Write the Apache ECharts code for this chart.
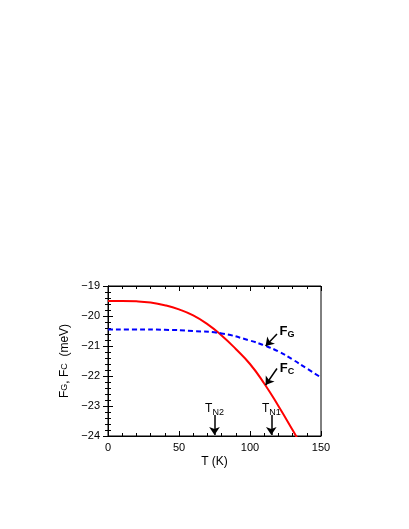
<!DOCTYPE html><html><head><meta charset="utf-8"><script src="https://cdn.jsdelivr.net/npm/echarts@6/dist/echarts.min.js"></script></head><body style="margin:0;background:#fff"><div id="c" style="width:409px;height:529px"></div><script>
const tC=[0,10,20,30,40,50,60,70,80,90,100,110,120,130,133];
const fC=[-19.5,-19.5,-19.51,-19.55,-19.64,-19.78,-19.98,-20.27,-20.65,-21.1,-21.6,-22.25,-23.0,-23.8,-24.05];
const tG=[0,20,40,60,80,100,110,120,130,140,150];
const fG=[-20.45,-20.45,-20.46,-20.5,-20.58,-20.82,-20.98,-21.18,-21.45,-21.75,-22.05];
const xTicks=[0,50,100,150];
const yTicks=[-24,-23,-22,-21,-20,-19];
const TN=[{x:75,name:'N2'},{x:115,name:'N1'}];
const font='Liberation Sans';
const ax={axisLine:{lineStyle:{color:'#000',width:1}},axisTick:{inside:true,length:5,lineStyle:{color:'#000'}},minorTick:{show:true,splitNumber:5,length:3,lineStyle:{color:'#000'}},splitLine:{show:false}};
const fmt=v=>String(v).replace('-','\u2212');
const arrows=[
 ...TN.map(t=>[{coord:[t.x,-23.3]},{coord:[t.x,-23.97]}]),
 [{coord:[119,-20.6]},{coord:[111,-21.0]}],
 [{coord:[119,-21.75]},{coord:[111,-22.3]}]
];
const labels=[
 {coord:[75,-23.1],t:'{a|T}{s|N2}'},{coord:[115,-23.1],t:'{a|T}{s|N1}'},
 {coord:[126,-20.5],t:'{b|F}{bs|G}'},{coord:[126,-21.75],t:'{b|F}{bs|C}'}];
const rich={a:{fontSize:12,fontFamily:font,color:'#000'},s:{fontSize:9,fontFamily:font,color:'#000',padding:[7,0,0,0]},
 b:{fontSize:13,fontWeight:'bold',fontFamily:font,color:'#000'},bs:{fontSize:9,fontWeight:'bold',fontFamily:font,color:'#000',padding:[7,0,0,0]}};
const ch=echarts.init(document.getElementById('c'));
ch.setOption({animation:false,
grid:{left:108,right:88,top:286,bottom:93,show:true,borderColor:'#000',borderWidth:1},
xAxis:[{type:'value',min:0,max:150,interval:50,...ax,name:'T (K)',nameLocation:'middle',nameGap:20,nameTextStyle:{fontSize:12,fontFamily:font,color:'#000'},axisLabel:{fontSize:11,fontFamily:font,color:'#000',margin:6}},
 {type:'value',min:0,max:150,interval:50,position:'top',...ax,axisLabel:{show:false}}],
yAxis:[{type:'value',min:-24,max:-19,interval:1,...ax,name:'{a|F}{s|G}{a|, F}{s|C}{a|  (meV)}',nameLocation:'middle',nameGap:30,nameTextStyle:{rich:{a:{fontSize:12,fontFamily:font},s:{fontSize:9,fontFamily:font}}},axisLabel:{fontSize:11,fontFamily:font,color:'#000',formatter:fmt}},
 {type:'value',min:-24,max:-19,interval:1,position:'right',...ax,axisLabel:{show:false}}],
series:[
 {type:'line',data:tC.map((t,i)=>[t,fC[i]]),smooth:true,showSymbol:false,clip:true,lineStyle:{color:'#ff0000',width:2}},
 {type:'line',data:tG.map((t,i)=>[t,fG[i]]),smooth:true,showSymbol:false,lineStyle:{color:'#0000ff',width:2,type:[5,3]},
  markLine:{silent:true,symbol:['none','arrow'],symbolSize:8,label:{show:false},lineStyle:{color:'#000',width:1.5,type:'solid'},data:arrows},
  markPoint:{symbol:'circle',symbolSize:1,itemStyle:{color:'rgba(0,0,0,0)'},label:{show:true,position:'inside'},data:labels.map(l=>({coord:l.coord,label:{show:true,position:'inside',formatter:l.t,rich:rich}}))}}
]});
</script></body></html>
